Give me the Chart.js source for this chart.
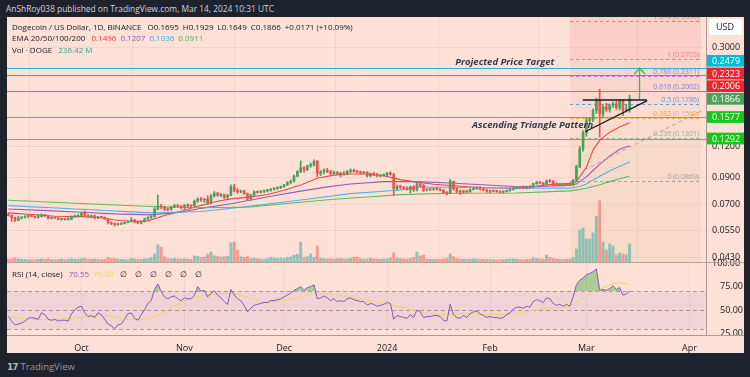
<!DOCTYPE html>
<html>
<head>
<meta charset="utf-8">
<script src="https://cdn.jsdelivr.net/npm/chart.js@4.4.1/dist/chart.umd.min.js"></script>
<style>
  html,body{margin:0;padding:0;width:750px;height:377px;background:#1e222d;overflow:hidden;font-family:'Open Sans',sans-serif;}
  #byline{position:absolute;left:6px;top:3px;font-size:8.4px;color:#d1d4dc;white-space:nowrap;}
  #panel{position:absolute;left:7px;top:17px;width:737px;height:336px;background:#fde1d6;overflow:hidden;}
  canvas{position:absolute;left:0;}
  #c1{top:0;}
  #c2{top:245px;}
  #sep{position:absolute;left:0;top:245px;width:737px;height:1px;background:#b3a29b;z-index:6;}
  .lg{position:absolute;left:5px;font-size:8px;color:#131722;white-space:nowrap;}
  .lg span{margin-left:4px;}
  #topTickText{position:absolute;font-size:9px;line-height:10px;color:#131722;white-space:nowrap;z-index:5;}
  #logo{position:absolute;left:7px;top:360px;color:#9598a1;font-size:9.5px;white-space:nowrap;}
  #logo b{font-family:'DejaVu Sans';font-size:9px;color:#b2b5be;letter-spacing:-1px;margin-right:3px;}
</style>
</head>
<body>
<div id="byline">AnShRoy038 published on TradingView.com, Mar 14, 2024 10:31 UTC</div>
<div id="panel">
  <canvas id="c1" width="737" height="245"></canvas>
  <canvas id="c2" width="737" height="91"></canvas>
  <div id="topTickText"></div>
  <div id="sep"></div>
  <div class="lg" style="top:4px">Dogecoin / US Dollar, 1D, BINANCE <span>O0.1695</span><span>H0.1929</span><span>L0.1649</span><span>C0.1866</span><span>+0.0171 (+10.09%)</span></div>
  <div class="lg" style="top:15px">EMA 20/50/100/200 <span style="color:#f23645">0.1496</span><span style="color:#9c4fc0">0.1207</span><span style="color:#3fa9e0">0.1036</span><span style="color:#4caf50">0.0911</span></div>
  <div class="lg" style="top:27px">Vol · DOGE <span style="color:#26a69a">236.42 M</span></div>
  <div class="lg" style="top:251px">RSI (14, close) <span style="color:#7e57c2">70.55</span><span style="color:#f3d26b">76.80</span><span style="margin-left:6px;letter-spacing:3px">∅ ∅ ∅ ∅ ∅ ∅</span></div>
</div>
<div id="logo"><b>17</b>TradingView</div>
<script>
// ---------- DATA ----------
// day index: 0 = 2023-10-01; first candle = 2023-09-09
const firstDay = -22;
const open = [
 .0640,.0634,.0621,.0605,.0618,.0622,.0628,.0630,.0627,.0621,.0626,.0636,.0632,.0616,.0619,.0617,.0610,.0613,.0609,.0611,.0626,.0627,
 .0634,.0648,.0632,.0626,.0631,.0618,.0624,.0622,.0613,.0592,.0587,.0581,.0584,.0587,.0593,.0598,.0607,.0596,.0590,.0597,.0612,.0621,.0627,.0672,.0690,.0684,.0670,.0667,.0684,.0694,.0690,
 .0682,.0695,.0692,.0691,.0722,.0738,.0731,.0736,.0712,.0758,.0778,.0762,.0768,.0748,.0763,.0826,.0798,.0790,.0794,.0775,.0738,.0765,.0788,.0784,.0792,.0796,.0801,.0808,.0813,.0820,
 .0826,.0840,.0860,.0870,.0912,.0950,.0985,.0968,.1003,.1012,.1045,.0935,.0948,.0965,.0950,.0932,.0945,.0930,.0935,.0928,.0952,.0962,.0950,.0945,.0940,.0944,.0915,.0932,.0920,.0912,.0918,
 .0922,.0938,.0925,.0812,.0830,.0822,.0815,.0805,.0825,.0800,.0848,.0835,.0800,.0806,.0803,.0810,.0808,.0800,.0782,.0778,.0868,.0810,.0790,.0785,.0795,.0788,.0805,.0812,.0818,.0808,.0800,
 .0792,.0795,.0792,.0790,.0785,.0790,.0798,.0805,.0815,.0822,.0820,.0818,.0826,.0822,.0850,.0858,.0855,.0845,.0872,.0868,.0850,.0840,.0845,.0838,.0848,.0840,.0878,.0995,.1175,
 .1360,.1525,.1540,.1675,.1840,.1620,.1735,.1690,.1760,.1780,.1720,.1830,.1680,.1695];
const high = [
 .0648,.0636,.0623,.0628,.0625,.0632,.0634,.0633,.0629,.0638,.0642,.0640,.0634,.0622,.0621,.0620,.0616,.0615,.0621,.0630,.0634,.0638,
 .0652,.0660,.0638,.0634,.0635,.0628,.0627,.0625,.0615,.0597,.0590,.0589,.0592,.0596,.0602,.0620,.0610,.0599,.0600,.0618,.0626,.0632,.0680,.0765,.0702,.0690,.0680,.0688,.0700,.0700,.0694,
 .0700,.0706,.0697,.0730,.0745,.0748,.0740,.0760,.0770,.0790,.0785,.0775,.0772,.0770,.0840,.0845,.0812,.0800,.0800,.0780,.0770,.0795,.0795,.0798,.0800,.0806,.0812,.0818,.0826,.0832,
 .0845,.0865,.0880,.0920,.0960,.1050,.0995,.1010,.1030,.1060,.1055,.0960,.0975,.0980,.0962,.0955,.0950,.0942,.0950,.0960,.0975,.0972,.0962,.0955,.0950,.0950,.0940,.0945,.0935,.0925,.0930,
 .0945,.0950,.0935,.0840,.0838,.0830,.0825,.0830,.0835,.0855,.0865,.0845,.0812,.0815,.0815,.0818,.0812,.0805,.0790,.0885,.0870,.0818,.0800,.0800,.0800,.0810,.0818,.0825,.0825,.0815,.0808,
 .0800,.0802,.0798,.0795,.0795,.0802,.0808,.0818,.0828,.0830,.0832,.0830,.0835,.0855,.0870,.0868,.0860,.0880,.0885,.0875,.0858,.0850,.0850,.0852,.0855,.0885,.1010,.1200,.1390,
 .1560,.1570,.1700,.1880,.2040,.1770,.1790,.1780,.1810,.1830,.1850,.1860,.1760,.1929];
const low = [
 .0629,.0598,.0597,.0603,.0611,.0619,.0620,.0624,.0617,.0618,.0623,.0626,.0612,.0613,.0614,.0607,.0604,.0606,.0605,.0609,.0620,.0624,
 .0630,.0627,.0622,.0620,.0612,.0614,.0619,.0610,.0585,.0581,.0573,.0577,.0580,.0585,.0590,.0596,.0590,.0586,.0585,.0595,.0608,.0616,.0624,.0665,.0672,.0662,.0661,.0664,.0680,.0683,.0673,
 .0670,.0686,.0682,.0689,.0715,.0720,.0715,.0700,.0705,.0750,.0755,.0752,.0738,.0742,.0758,.0788,.0776,.0780,.0770,.0726,.0728,.0760,.0778,.0779,.0782,.0786,.0792,.0800,.0806,.0812,
 .0820,.0835,.0848,.0862,.0905,.0940,.0945,.0960,.0990,.1000,.0905,.0915,.0930,.0940,.0925,.0928,.0925,.0905,.0920,.0925,.0940,.0945,.0938,.0930,.0932,.0905,.0905,.0915,.0905,.0905,.0910,
 .0912,.0920,.0760,.0800,.0808,.0805,.0800,.0780,.0790,.0795,.0825,.0790,.0795,.0798,.0800,.0800,.0795,.0775,.0765,.0775,.0800,.0782,.0770,.0778,.0780,.0785,.0800,.0805,.0800,.0795,.0785,
 .0782,.0788,.0785,.0780,.0780,.0786,.0790,.0800,.0810,.0815,.0812,.0810,.0815,.0820,.0845,.0848,.0838,.0842,.0860,.0835,.0832,.0832,.0830,.0835,.0836,.0835,.0870,.0985,.1150,
 .1320,.1480,.1510,.1630,.1310,.1580,.1660,.1650,.1720,.1690,.1680,.1600,.1650,.1649];
const close = [
 .0634,.0621,.0605,.0618,.0622,.0628,.0630,.0627,.0621,.0626,.0636,.0632,.0616,.0619,.0617,.0610,.0613,.0609,.0611,.0626,.0627,.0634,
 .0648,.0632,.0626,.0631,.0618,.0624,.0622,.0613,.0592,.0587,.0581,.0584,.0587,.0593,.0598,.0607,.0596,.0590,.0597,.0612,.0621,.0627,.0672,.0690,.0684,.0670,.0667,.0684,.0694,.0690,.0682,
 .0695,.0692,.0691,.0722,.0738,.0731,.0736,.0712,.0758,.0778,.0762,.0768,.0748,.0763,.0826,.0798,.0790,.0794,.0775,.0738,.0765,.0788,.0784,.0792,.0796,.0801,.0808,.0813,.0820,.0826,
 .0840,.0860,.0870,.0912,.0950,.0985,.0968,.1003,.1012,.1045,.0935,.0948,.0965,.0950,.0932,.0945,.0930,.0935,.0928,.0952,.0962,.0950,.0945,.0940,.0944,.0915,.0932,.0920,.0912,.0918,.0922,
 .0938,.0925,.0812,.0830,.0822,.0815,.0805,.0825,.0800,.0848,.0835,.0800,.0806,.0803,.0810,.0808,.0800,.0782,.0778,.0868,.0810,.0790,.0785,.0795,.0788,.0805,.0812,.0818,.0808,.0800,.0792,
 .0795,.0792,.0790,.0785,.0790,.0798,.0805,.0815,.0822,.0820,.0818,.0826,.0822,.0850,.0858,.0855,.0845,.0872,.0868,.0850,.0840,.0845,.0838,.0848,.0840,.0878,.0995,.1175,.1360,
 .1525,.1540,.1675,.1840,.1620,.1735,.1690,.1760,.1780,.1720,.1830,.1680,.1695,.1866];
// volume, millions
const volume = [
 38,42,55,40,35,33,30,28,30,36,40,35,45,32,30,34,38,33,36,42,35,38,
 45,52,38,35,40,33,30,35,58,45,50,40,35,32,30,48,40,36,34,45,42,60,105,225,195,65,45,42,48,40,38,
 42,38,35,80,75,60,65,105,130,80,72,65,70,75,250,260,155,70,60,70,45,50,42,40,38,45,60,55,45,52,
 45,60,65,90,100,260,60,70,105,60,210,50,45,40,42,38,45,48,40,42,50,65,62,45,38,40,48,42,38,35,40,
 45,55,120,50,45,40,38,48,60,130,80,90,38,35,32,36,34,40,48,105,70,45,40,38,35,40,42,38,35,36,34,
 32,30,28,30,32,35,38,40,38,32,30,34,36,55,45,40,35,90,60,45,38,36,34,35,40,60,170,420,445,
 300,300,380,600,800,260,157,236,210,92,118,105,92,236.42];
const rsi = [
 43,38,34,35,36,38,41,42,41,40,47,45,40,39,40,38,39,39,38,46,50,53,
 54,47,43,44,42,47,45,40,35,33,30,34,35,40,46,47,41,39,45,50,57,60,72,78,70,64,62,64,65,62,60,
 63,62,62,66,75,70,71,64,68,70.5,66,63,59,56,72,66,62,60,55,48,52,55,56,57,58,58,60,60,61,62,
 64,66,68,71,73,75,71,74,75,77,62,63,65,63,60,62,59,60,59,62,63,61,60,59,59,55,57,56,54,55,56,
 58,57,40,44,43,42,41,45,42,50,48,42,43,43,44,44,43,39,38,56,45,42,41,44,42,46,48,49,46,44,42,
 43,42,42,41,42,45,47,51,53,53,52,54,53,59,61,60,58,63,62,57,55,56,54,56,54,64,77,82,84,
 88,89,91,94,71,72,71,73,76,72,74,66,67,70.55];
const rsiMa = [[-22,43],[-15,40],[-8,40],[0,42],[7,44],[14,40],[20,41],[24,46],[28,54],[32,61],[36,65],[40,67],[44,68],[48,66],[52,61],[56,58],[60,60],[65,63],[70,67],[75,67],[80,64],[85,61],[90,58],[95,54],[100,50],[105,46],[110,45],[115,46],[120,45],[125,45],[130,46],[135,49],[140,52],[145,53],[148,56],[152,64],[155,71],[158,75],[160,78],[162,79],[164,78.5],[165,76.8]];
const ema20 = [[-22,.0648],[-15,.0638],[-8,.0628],[0,.0626],[5,.0622],[10,.0607],[15,.0598],[20,.0602],[25,.0632],[30,.0658],[36,.0695],[41,.0722],[45,.0738],[51,.0752],[56,.0768],[61,.0800],[66,.0840],[71,.0893],[76,.0920],[81,.0930],[86,.0930],[91,.0915],[96,.0882],[101,.0862],[106,.0845],[111,.0835],[116,.0826],[122,.0818],[132,.0815],[141,.0842],[147,.0852],[149,.0866],[152,.0990],[154,.1160],[156,.1270],[159,.1370],[162,.1436],[165,.1496]];
const ema50 = [[-22,.0672],[-10,.0662],[0,.0652],[10,.0642],[21,.0636],[30,.0652],[36,.0676],[45,.0705],[51,.0730],[58,.0760],[66,.0793],[74,.0825],[81,.0847],[91,.0866],[101,.0866],[111,.0855],[122,.0839],[132,.0826],[140,.0830],[147,.0838],[149,.0848],[152,.0905],[154,.0960],[156,.1017],[159,.1097],[162,.1170],[165,.1207]];
const ema100 = [[-22,.0693],[0,.0670],[21,.0648],[36,.0656],[51,.0690],[66,.0730],[81,.0775],[96,.0801],[101,.0824],[111,.0822],[131,.0814],[147,.0815],[150,.0828],[152,.0848],[154,.0880],[156,.0910],[159,.0955],[162,.0998],[165,.1036]];
const ema200 = [[-22,.0729],[0,.0707],[21,.0688],[36,.0680],[51,.0684],[61,.0705],[76,.0735],[86,.0751],[96,.0768],[111,.0778],[131,.0779],[147,.0795],[150,.0805],[152,.0815],[154,.0828],[156,.0842],[159,.0866],[162,.0890],[165,.0911]];
const monthTicks = [0,31,61,92,123,152,183];
const monthLabels = ['Oct','Nov','Dec','2024','Feb','Mar','Apr'];
const priceTicks = [0.3,0.12,0.09,0.07,0.055,0.043];
const rsiTicks = [100,75,50,25];
const rsiLevels = [70,50,30];
const fibRatios = [0,0.236,0.382,0.5,0.618,0.786,1,1.618];
const fibPrices = [0.0869,0.1301,0.1569,0.1786,0.2002,0.2311,0.2703,0.3836];
const fibRange = [147.1,186.5];
const levelPrices = [0.2479,0.2323,0.2006,0.1577,0.1292];
const lastPrice = 0.1866;
const triTop = [[150.9,0.1847],[170.2,0.1847]];
const triBottom = [[151.6,0.1376],[170.3,0.1835]];
const arrowShaft = [[168.0,0.1860],[168.0,0.2479]];
const arrowHead = [[166.4,0.2350],[168.0,0.2479],[169.7,0.2350]];
const dashedTrend = [[151.5,0.0966],[187.0,0.168]];
const notes = [{text:'Projected Price Target', x:112.5, y:0.2627},{text:'Ascending Triangle Pattern', x:117.6, y:0.1465}];

// ---------- STYLE ----------
const FONT = "'Open Sans', sans-serif";
const BG = '#fde1d6';
const X_MIN = -22.4, X_MAX = 188.0;
const Y_MIN = 0.04109, Y_MAX = 0.3988;
const VOL_MAX = 3.2e9;
const RSI_MIN = 23.2, RSI_MAX = 101.4;
const UP = '#4a9f5c', DOWN = '#e8544f';
const GRID = 'rgba(120,90,80,0.08)';
const AXIS = '#ad9c95';
const fibColor = ['#9e9e9e','#93b08a','#e6ad3c','#5b9bd5','#7d7fdc','#9a7be0','#ee7f7a','#ee6f78'];
const fibFill = ['rgba(225,185,150,0.16)','rgba(230,180,140,0.10)','rgba(240,160,150,0.08)','rgba(240,130,140,0.10)','rgba(240,120,130,0.12)','rgba(240,120,130,0.12)','rgba(240,110,125,0.16)'];
const levelColors = ['#1fb9d2','#f25c5c','#f25c5c','#62b85e','#62b85e'];
const boxColors = {0.2479:'#00bcd4',0.2323:'#f5222d',0.2006:'#f5222d',0.1866:'#4f9f5a',0.1577:'#17c717',0.1292:'#17c717'};

const days = open.map((_, i) => firstDay + i);
const candleCol = days.map((_, i) => close[i] >= open[i] ? UP : DOWN);
const volCol = days.map((_, i) => close[i] >= open[i] ? 'rgba(38,166,154,0.5)' : 'rgba(239,83,80,0.5)');
const pts = a => a.map(([x, y]) => ({x, y}));
const lineDs = (data, color, w, order, extra) => Object.assign({type:'line', data:pts(data), borderColor:color, borderWidth:w, pointRadius:0, fill:false, order}, extra||{});

const fixY = s => { s.width = 38; s.paddingTop = 0; s.paddingBottom = 0; };

const pricePane = {
  id: 'pricePane',
  beforeDatasetsDraw(chart) {
    const {ctx, chartArea: a, scales: {x, y}} = chart;
    ctx.save();
    ctx.beginPath(); ctx.rect(a.left, a.top, a.right - a.left, a.bottom - a.top); ctx.clip();
    const x0 = x.getPixelForValue(fibRange[0]), x1 = x.getPixelForValue(fibRange[1]);
    ctx.fillStyle = fibFill[0];
    const y0 = y.getPixelForValue(fibPrices[0]);
    ctx.fillRect(x0, y0, x1 - x0, a.bottom - y0);
    for (let i = 0; i < fibPrices.length - 1; i++) {
      const ya = y.getPixelForValue(fibPrices[i]), yb = y.getPixelForValue(fibPrices[i + 1]);
      ctx.fillStyle = fibFill[i];
      ctx.fillRect(x0, yb, x1 - x0, ya - yb);
    }
    ctx.fillStyle = fibFill[fibFill.length - 1];
    const ytop = y.getPixelForValue(fibPrices[fibPrices.length - 1]);
    ctx.fillRect(x0, a.top, x1 - x0, ytop - a.top);
    ctx.lineWidth = 1;
    ctx.setLineDash([3, 3]);
    ctx.font = '7px ' + FONT;
    ctx.textAlign = 'right'; ctx.textBaseline = 'middle';
    fibPrices.forEach((p, i) => {
      const yy = Math.round(y.getPixelForValue(p)) + 0.5;
      ctx.strokeStyle = fibColor[i];
      ctx.beginPath(); ctx.moveTo(x0, yy); ctx.lineTo(x1, yy); ctx.stroke();
      ctx.fillStyle = fibColor[i];
      ctx.fillText(fibRatios[i] + ' (' + p.toFixed(4) + ')', x1 - 2, yy - 5);
    });
    ctx.setLineDash([]);
    levelPrices.forEach((p, i) => {
      const yy = Math.round(y.getPixelForValue(p)) + 0.5;
      ctx.strokeStyle = levelColors[i];
      ctx.beginPath(); ctx.moveTo(a.left, yy); ctx.lineTo(a.right, yy); ctx.stroke();
    });
    ctx.restore();
  },
  afterDraw(chart) {
    const {ctx, chartArea: a, scales: {x, y}} = chart;
    ctx.save();
    ctx.font = 'italic bold 9.5px ' + FONT;
    ctx.fillStyle = '#363a45'; ctx.textAlign = 'left'; ctx.textBaseline = 'middle';
    notes.forEach(n => ctx.fillText(n.text, x.getPixelForValue(n.x), y.getPixelForValue(n.y)));
    const h = 12.7;
    const items = levelPrices.concat([lastPrice]).map(p => ({p, y: y.getPixelForValue(p)})).sort((m, n) => m.y - n.y);
    const k = items.findIndex(it => it.p === lastPrice);
    for (let i = k - 1; i >= 0; i--) items[i].y = Math.min(items[i].y, items[i + 1].y - h);
    for (let i = k + 1; i < items.length; i++) items[i].y = Math.max(items[i].y, items[i - 1].y + h);
    ctx.font = '9px ' + FONT; ctx.textBaseline = 'middle';
    items.forEach(it => {
      ctx.fillStyle = boxColors[it.p];
      ctx.fillRect(y.left + 1, it.y - h / 2 + 0.5, y.right - y.left - 1, h - 1);
      ctx.fillStyle = '#ffffff';
      ctx.fillText(it.p.toFixed(4), y.left + 6, it.y + 0.5);
    });
    ctx.fillStyle = '#ffffff';
    ctx.beginPath(); ctx.roundRect(y.left + 3, 2, y.right - y.left - 5, 16, 2); ctx.fill();
    ctx.fillStyle = '#131722'; ctx.textAlign = 'center';
    ctx.fillText('USD', (y.left + y.right) / 2, 10.5);
    ctx.restore();
  }
};

new Chart(document.getElementById('c1'), {
  type: 'bar',
  data: {
    datasets: [
      {type:'bar', yAxisID:'vol', data: days.map((d, i) => ({x:d, y:volume[i] * 1e6})), backgroundColor: volCol, barThickness: 2.3, grouped: false, order: 10},
      lineDs(ema200, '#5fb85a', 1.1, 6),
      lineDs(ema100, '#52b2de', 1.1, 6),
      lineDs(ema50, '#9b59b6', 1.1, 6),
      lineDs(ema20, '#ef4444', 1.1, 6),
      {type:'bar', data: days.map((d, i) => ({x:d, y:[low[i], high[i]]})), backgroundColor: candleCol, barThickness: 1, grouped: false, order: 3},
      {type:'bar', data: days.map((d, i) => ({x:d, y:[open[i], close[i]]})), backgroundColor: candleCol, barThickness: 2, minBarLength: 1, grouped: false, order: 2},
      lineDs(dashedTrend, 'rgba(236,120,130,0.8)', 1, 1, {borderDash:[4,3]}),
      lineDs(triTop, '#131722', 1.3, 0),
      lineDs(triBottom, '#131722', 1.3, 0),
      lineDs(arrowShaft, '#4caf50', 1.3, 0),
      lineDs(arrowHead, '#4caf50', 1.3, 0)
    ]
  },
  options: {
    responsive: false, animation: false, devicePixelRatio: 1,
    layout: {padding: 0, autoPadding: false},
    plugins: {legend: {display: false}, tooltip: {enabled: false}},
    scales: {
      x: {type:'linear', min:X_MIN, max:X_MAX, offset:false,
          afterBuildTicks: s => { s.ticks = monthTicks.map(v => ({value: v})); },
          afterFit: s => { s.height = 0; s.paddingLeft = 0; s.paddingRight = 0; },
          ticks: {display: false}, grid: {color: GRID, drawTicks: false}, border: {display: false}},
      y: {type:'logarithmic', position:'right', min:Y_MIN, max:Y_MAX,
          afterBuildTicks: s => { s.ticks = priceTicks.map(v => ({value: v})); },
          afterFit: fixY,
          ticks: {callback: v => Number(v).toFixed(4), color:'#131722', font:{family:FONT, size:9}, padding:6, autoSkip:false},
          grid: {color: GRID, drawTicks: false}, border: {color: AXIS}},
      vol: {type:'linear', display:false, min:0, max:VOL_MAX}
    }
  },
  plugins: [pricePane]
});

const rsiPane = {
  id: 'rsiPane',
  beforeDatasetsDraw(chart) {
    const {ctx, chartArea: a, scales: {y}} = chart;
    ctx.save();
    const y70 = y.getPixelForValue(rsiLevels[0]), y30 = y.getPixelForValue(rsiLevels[2]);
    ctx.fillStyle = 'rgba(126,87,194,0.1)';
    ctx.fillRect(a.left, y70, a.right - a.left, y30 - y70);
    ctx.setLineDash([4, 3]); ctx.lineWidth = 1;
    ctx.strokeStyle = 'rgba(120,110,120,0.6)';
    rsiLevels.forEach(v => {
      const yy = Math.round(y.getPixelForValue(v)) + 0.5;
      ctx.beginPath(); ctx.moveTo(a.left, yy); ctx.lineTo(a.right, yy); ctx.stroke();
    });
    ctx.restore();
  },
  afterDraw(chart) {
    const {ctx, chartArea: a, scales: {y}} = chart;
    ctx.save();
    ctx.fillStyle = BG;
    ctx.fillRect(y.left + 1, a.bottom + 1, y.right - y.left, chart.height - a.bottom);
    ctx.fillStyle = AXIS;
    ctx.fillRect(y.left, Math.round(a.bottom), y.right - y.left, 1);
    ctx.restore();
  }
};

const rsiChart = new Chart(document.getElementById('c2'), {
  type: 'line',
  data: {
    datasets: [
      {data: days.map((d, i) => ({x:d, y:rsi[i]})), borderColor:'#7e57c2', borderWidth:1, pointRadius:0,
       fill: {target: {value: 70}, above: 'rgba(76,175,80,0.45)', below: 'rgba(0,0,0,0)'}, order: 1},
      {data: pts(rsiMa), borderColor:'#f3d26b', borderWidth:1, pointRadius:0, cubicInterpolationMode:'monotone', fill:false, order: 2}
    ]
  },
  options: {
    responsive: false, animation: false, devicePixelRatio: 1,
    layout: {padding: 0, autoPadding: false},
    plugins: {legend: {display: false}, tooltip: {enabled: false}},
    scales: {
      x: {type:'linear', min:X_MIN, max:X_MAX, offset:false,
          afterBuildTicks: s => { s.ticks = monthTicks.map(v => ({value: v})); },
          afterFit: s => { s.height = 18; s.paddingLeft = 0; s.paddingRight = 0; },
          ticks: {callback: v => monthLabels[monthTicks.indexOf(v)], color:'#131722', font:{family:FONT, size:9}, padding:8, autoSkip:false, maxRotation:0},
          grid: {color: GRID, drawTicks: false}, border: {color: AXIS}},
      y: {position:'right', min:RSI_MIN, max:RSI_MAX,
          afterBuildTicks: s => { s.ticks = rsiTicks.map(v => ({value: v})); },
          afterFit: fixY,
          ticks: {callback: v => v === rsiTicks[0] ? '' : Number(v).toFixed(2), color:'#131722', font:{family:FONT, size:9}, padding:6, autoSkip:false},
          grid: {display: false}, border: {color: AXIS}}
    }
  },
  plugins: [rsiPane]
});

// top RSI tick label (crosses the pane separator), placed from the RSI scale
(function () {
  const ys = rsiChart.scales.y;
  const t = document.getElementById('topTickText');
  t.textContent = Number(rsiTicks[0]).toFixed(2);
  t.style.left = (ys.left + 6) + 'px';
  t.style.top = (245 + ys.getPixelForValue(rsiTicks[0]) - 5.5) + 'px';
})();
</script>
</body>
</html>
